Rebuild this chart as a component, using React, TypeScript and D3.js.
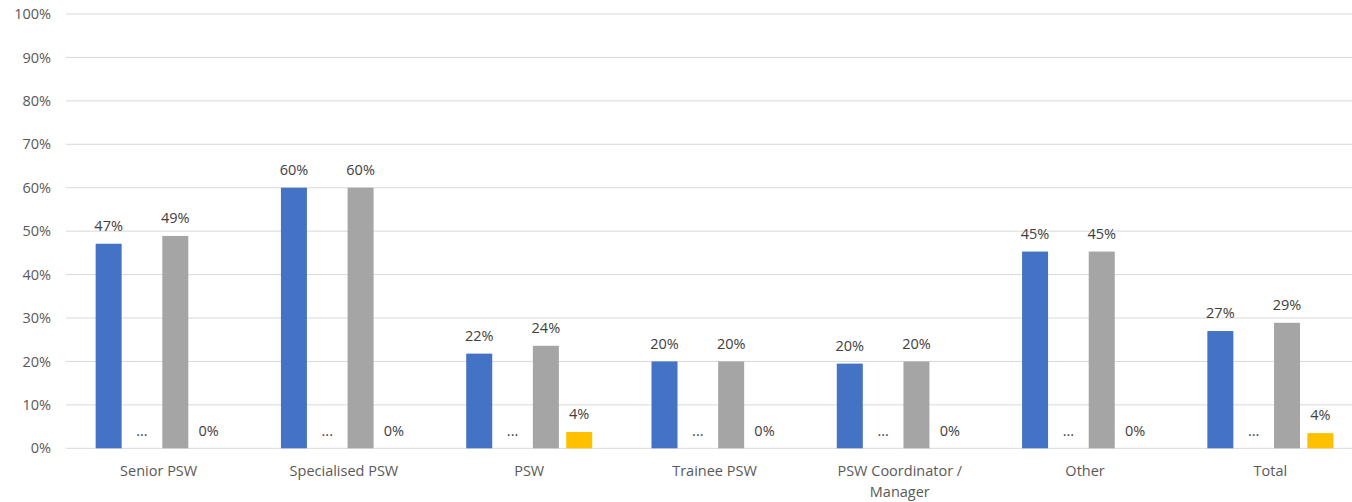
import React from "react";
import * as d3 from "d3";

const categories: string[][] = [
  ["Senior PSW"],
  ["Specialised PSW"],
  ["PSW"],
  ["Trainee PSW"],
  ["PSW Coordinator /", "Manager"],
  ["Other"],
  ["Total"],
];
const seriesKeys = ["s1", "s2", "s3", "s4"];
const seriesColors = ["#4472C4", "#ED7D31", "#A5A5A5", "#FFC000"];
const series1: (number | null)[] = [47.1, 60.0, 21.8, 20.0, 19.5, 45.3, 27.0];
const series2: (number | null)[] = [null, null, null, null, null, null, null];
const series3: (number | null)[] = [48.9, 60.0, 23.6, 20.0, 20.0, 45.3, 28.9];
const series4: (number | null)[] = [0, 0, 3.75, 0, 0, 0, 3.5];
const yTicks = [0, 10, 20, 30, 40, 50, 60, 70, 80, 90, 100];

const W = 1352;
const H = 502;
const FONT = "'Open Sans', sans-serif";
const FS = 14.5;

export default function App() {
  const left = 66;
  const right = 1363;
  const top = 14;
  const bottom = 448.3;
  const allSeries = [series1, series2, series3, series4];

  const x0 = d3
    .scaleBand<number>()
    .domain(categories.map((_, i) => i))
    .range([left, right])
    .paddingInner(0)
    .paddingOuter(0);
  const groupW = 126;
  const x1 = d3
    .scaleBand<string>()
    .domain(seriesKeys)
    .range([0, groupW])
    .paddingInner(0.22)
    .paddingOuter(0);
  const y = d3.scaleLinear().domain([0, 100]).range([bottom, top]);
  const bw = x1.bandwidth();

  return (
    <svg
      width={W}
      height={H}
      style={{ position: "absolute", left: 0, top: 0, background: "#fff" }}
      fontFamily={FONT}
    >
      {yTicks.map((t) => (
        <g key={t}>
          <line x1={left} x2={W} y1={y(t)} y2={y(t)} stroke="#D9D9D9" strokeWidth={1} />
          <text x={51} y={y(t)} dy="0.35em" textAnchor="end" fontSize={FS} fill="#595959">
            {t}%
          </text>
        </g>
      ))}
      {categories.map((cat, ci) => {
        const gx = x0(ci)! + (x0.bandwidth() - groupW) / 2;
        return (
          <g key={ci}>
            {allSeries.map((s, si) => {
              const v = s[ci];
              const bx = gx + x1(seriesKeys[si])!;
              const cx = bx + bw / 2;
              const val = v === null ? 0 : v;
              return (
                <g key={si}>
                  {val > 0 && (
                    <rect x={bx} y={y(val)} width={bw} height={y(0) - y(val)} fill={seriesColors[si]} />
                  )}
                  <text
                    x={cx}
                    y={y(val) - 12.8}
                    textAnchor="middle"
                    fontSize={FS}
                    fill="#404040"
                  >
                    {v === null ? "..." : `${Math.round(val)}%`}
                  </text>
                </g>
              );
            })}
            {cat.map((line, li) => (
              <text
                key={li}
                x={x0(ci)! + x0.bandwidth() / 2}
                y={476 + li * 21}
                textAnchor="middle"
                fontSize={FS}
                fill="#595959"
              >
                {line}
              </text>
            ))}
          </g>
        );
      })}
    </svg>
  );
}
